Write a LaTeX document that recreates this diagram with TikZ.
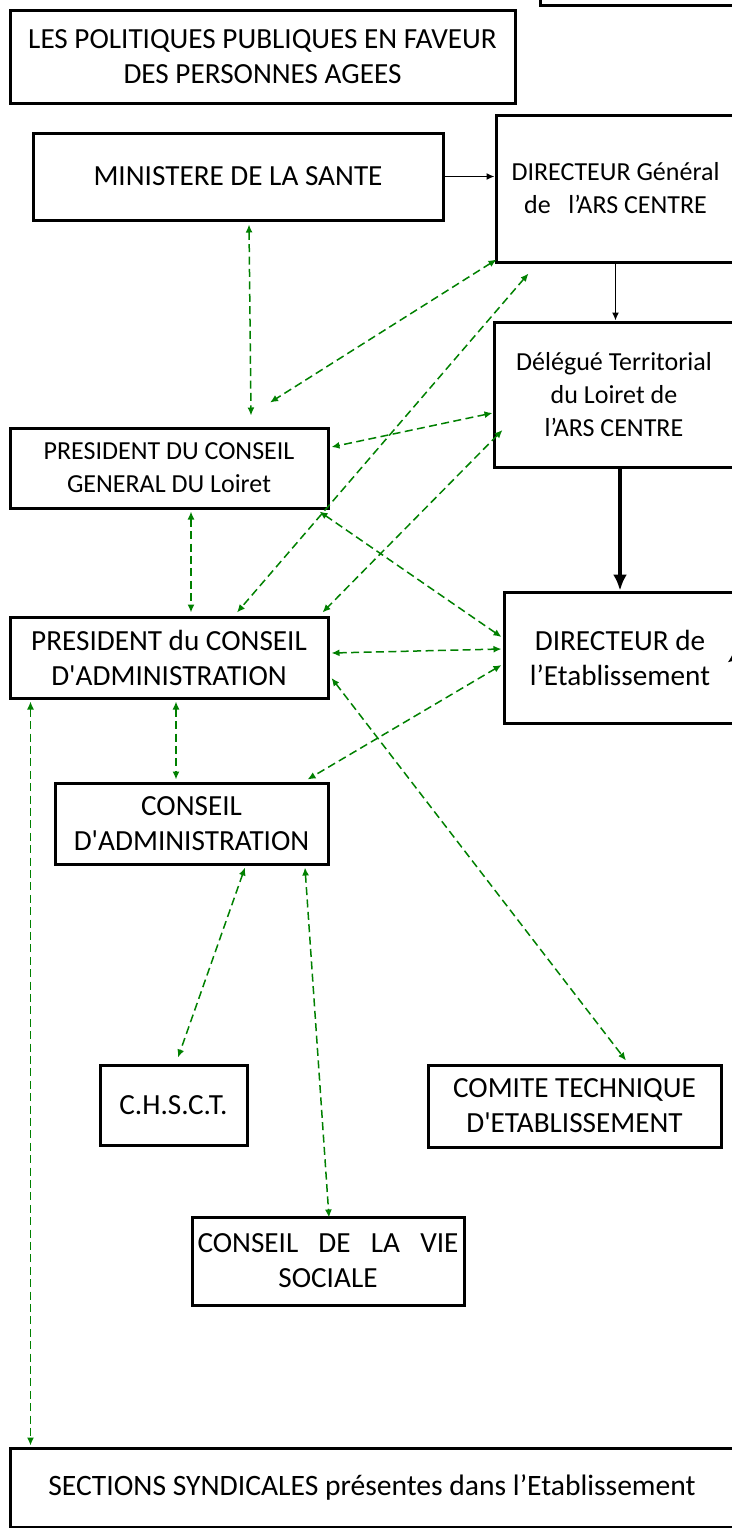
\documentclass[tikz,border=0pt]{standalone}
\usepackage{fontspec}
\setmainfont{Carlito}
\usetikzlibrary{arrows.meta,calc}

\begin{document}
\begin{tikzpicture}
        [x=0.5pt, y=-0.5pt,
        box/.style={draw, line width=1.5pt, inner sep=0pt, align=center, font=\fontsize{14.6}{17.5}\selectfont},
        boxSmall/.style={box, font=\fontsize{13}{16.5}\selectfont},
        link/.style={green!50!black, line width=0.75pt, dash pattern=on 4pt off 2.2pt, {Latex[length=4pt,width=3.5pt]}-{Latex[length=4pt,width=3.5pt]}},
        arrowThin/.style={-{Latex[length=4pt,width=3.5pt]}, line width=0.75pt},
        arrowThick/.style={-{Latex[length=8pt,width=7pt]}, line width=2pt}]
        \useasboundingbox (0,0) rectangle (732,1528);
        \clip (0,0) rectangle (732,1528);

        \node[box, minimum width=110pt, minimum height=35pt] (prev) at (650,-30) {};
        \node[box, minimum width=252.5pt, minimum height=46.5pt] (titre) at (262.5,56.5) {LES POLITIQUES PUBLIQUES EN FAVEUR\\DES PERSONNES AGEES};
        \node[box, minimum width=205pt, minimum height=43.5pt] (mini) at (238,176.5) {MINISTERE DE LA SANTE};
        \node[boxSmall, minimum width=119.5pt, minimum height=73.5pt] (dg) at (615.5,188.5) {DIRECTEUR Général\\de\ \ \ l’ARS CENTRE};
        \node[boxSmall, minimum width=120pt, minimum height=72.5pt] (del) at (614,394.5) {Délégué Territorial\\du Loiret de\\l’ARS CENTRE};
        \node[box, minimum width=116pt, minimum height=65.5pt] (dir) at (620,657.5) {DIRECTEUR de\\l’Etablissement};
        \node[boxSmall, minimum width=159pt, minimum height=40pt] (pcg) at (169,468) {PRESIDENT DU CONSEIL\\GENERAL DU Loiret};
        \node[box, minimum width=159pt, minimum height=40.5pt] (pca) at (169,657.5) {PRESIDENT du CONSEIL\\D\textquotesingle ADMINISTRATION};
        \node[box, minimum width=136.5pt, minimum height=40.5pt] (ca) at (191.5,823.5) {CONSEIL\\D\textquotesingle ADMINISTRATION};
        \node[box, minimum width=73.5pt, minimum height=40pt] (chsct) at (173.5,1105) {C.H.S.C.T.};
        \node[box, minimum width=146.5pt, minimum height=41pt] (cte) at (574.5,1106) {COMITE TECHNIQUE\\D\textquotesingle ETABLISSEMENT};
        \node[box, minimum width=136pt, minimum height=44pt] (cvs) at (328,1261) {\makebox[130.5pt][s]{CONSEIL DE LA VIE}\\SOCIALE};
        \node[box, minimum width=362pt, minimum height=39.5pt, font=\fontsize{14.8}{17.5}\selectfont] (synd) at (372,1487.5) {SECTIONS SYNDICALES présentes dans l’Etablissement};
        \coordinate (hors) at (745,650);

        % hierarchie
        \draw[arrowThin] (mini.east) -- (mini.east -| dg.west);
        \draw[arrowThin] (dg.south) -- (dg.south |- del.north);
        \draw[arrowThick] (dir.north |- del.south) -- (dir.north);
        \draw[arrowThin] (hors) -- ($(dir.east)+(-10,5)$);

        % relations
        \draw[link] ($(mini.south)+(11,3)$) -- ($(pcg.north)+(82,-11)$);
        \draw[link] ($(dg.south west)+(2,-4)$) -- ($(pcg.north)+(101,-24)$);
        \draw[link] ($(dg.south west)+(34,10)$) -- ($(pca.north)+(68,-3)$);
        \draw[link] ($(del.west)+(0,18.5)$) -- ($(pcg.east)+(2,-21)$);
        \draw[link] ($(del.west)+(10,35.5)$) -- ($(pca.north east)+(-7,-3)$);
        \draw[link] ($(pcg.south east)+(-10,2)$) -- ($(dir.west)+(-1,-20.5)$);
        \draw[link] ($(pcg.south)+(22,2)$) -- ($(pca.north)+(22,-3)$);
        \draw[link] ($(pca.east)+(2,-4.5)$) -- ($(dir.west)+(-1,-8.5)$);
        \draw[link] ($(dir.west)+(-1,7.5)$) -- ($(ca.north east)+(-22,-2)$);
        \draw[link] ($(pca.east)+(2,20.5)$) -- ($(cte.north)+(51.5,-3)$);
        \draw[link] ($(pca.south)+(7,2)$) -- ($(ca.north)+(-15.5,-2)$);
        \draw[link] ($(pca.south west)+(22,2)$) -- ($(synd.north west)+(22,-1)$);
        \draw[link] ($(ca.south)+(53.5,2)$) -- ($(chsct.north)+(4.5,-6)$);
        \draw[link] ($(ca.south)+(113.5,2)$) -- ($(cvs.north)+(1,2)$);
    \end{tikzpicture}
\end{document}
